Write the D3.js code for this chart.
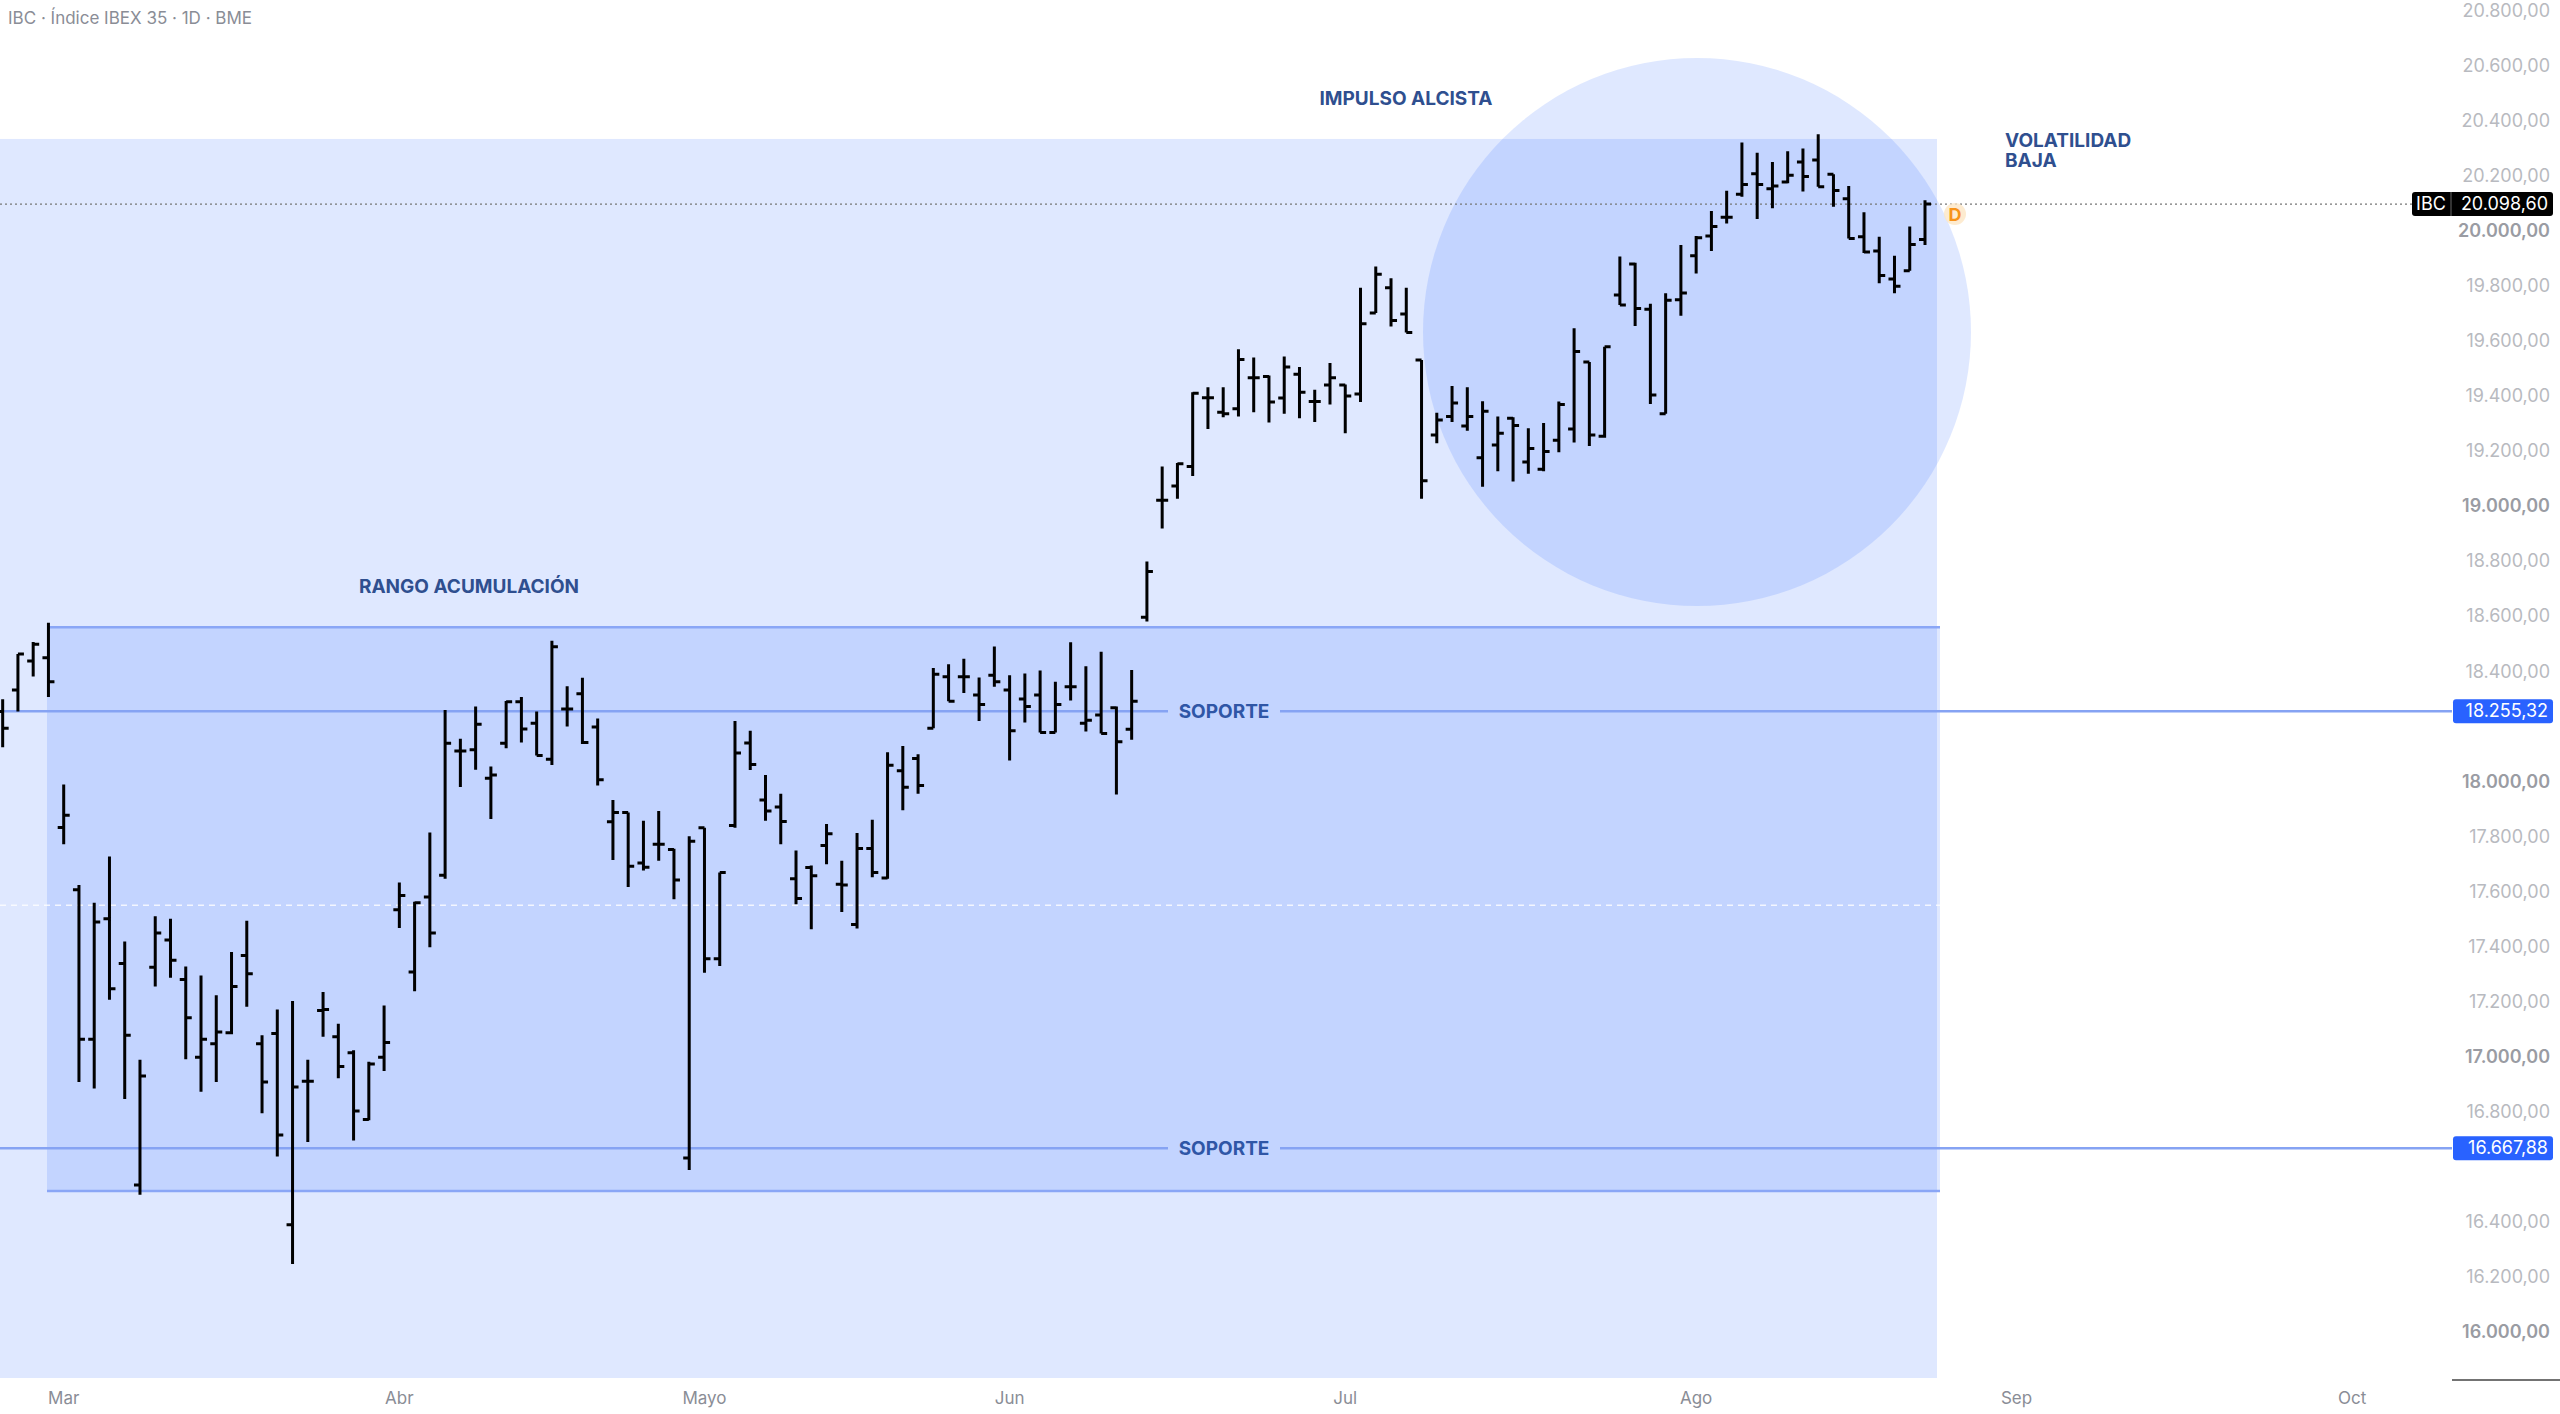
<!DOCTYPE html>
<html><head><meta charset="utf-8">
<script src="https://cdn.jsdelivr.net/npm/d3@7"></script>
<style>body{margin:0;background:#fff}svg{display:block;font-family:"Inter","Roboto",sans-serif}</style>
</head><body>
<script>
const W = 2560, H = 1414;

// daily bars [open, high, low, close], bar index -4 .. 122
const ohlc = [
  [18255,18299,18125,18194],[18333,18464,18255,18464],[18438,18507,18382,18499],[18450,18577,18307,18363],
  [17833,17989,17772,17878],[17607,17624,16908,17064],[17064,17560,16885,17490],[17502,17728,17207,17247],
  [17339,17419,16847,17078],[16534,16989,16499,16930],[17325,17511,17255,17450],[17424,17502,17287,17351],
  [17281,17328,16991,17142],[16998,17295,16873,17064],[17047,17224,16908,17090],[17087,17381,17082,17255],
  [17368,17494,17182,17302],[17047,17078,16795,16908],[17085,17172,16638,16716],[16390,17203,16247,16890],
  [16911,16989,16690,16911],[17168,17235,17073,17172],[17073,17120,16922,16965],[17015,17024,16696,16803],
  [16772,16982,16769,16974],[16998,17186,16948,17052],[17534,17633,17468,17586],[17308,17563,17238,17560],
  [17581,17815,17398,17450],[17660,18260,17647,18139],[18111,18156,17980,18111],[18116,18273,18043,18208],
  [18012,18055,17864,18024],[18139,18293,18121,18290],[18290,18307,18142,18191],[18212,18255,18095,18095],
  [18081,18512,18060,18490],[18264,18346,18200,18264],[18319,18377,18137,18142],[18198,18229,17986,18007],
  [17854,17933,17715,17888],[17888,17888,17617,17692],[17704,17858,17677,17689],[17772,17893,17712,17772],
  [17753,17756,17572,17642],[16632,17801,16589,17783],[17832,17832,17305,17356],[17356,17670,17330,17670],
  [17840,18220,17832,18104],[18140,18185,18042,18062],[17933,18024,17858,17893],[17908,17956,17772,17855],
  [17647,17750,17554,17575],[17688,17695,17463,17658],[17768,17846,17700,17810],[17627,17712,17526,17624],
  [17481,17813,17466,17757],[17757,17861,17652,17670],[17650,18107,17647,18059],[18039,18129,17896,17979],
  [18084,18099,17956,17986],[18194,18413,18194,18390],[18381,18426,18292,18292],[18381,18446,18322,18381],
  [18315,18378,18220,18280],[18386,18491,18345,18363],[18333,18386,18077,18185],[18300,18393,18215,18273],
  [18315,18404,18178,18178],[18178,18363,18178,18280],[18345,18506,18295,18345],[18212,18419,18182,18223],
  [18242,18472,18175,18175],[18268,18273,17953,18145],[18190,18405,18152,18292],[18597,18800,18582,18763],
  [19022,19145,18920,19022],[19074,19158,19028,19155],[19145,19415,19110,19411],[19395,19433,19281,19395],
  [19342,19433,19324,19337],[19355,19571,19327,19534],[19467,19541,19342,19467],[19472,19476,19305,19379],
  [19394,19545,19337,19506],[19480,19506,19320,19415],[19381,19424,19307,19381],[19441,19521,19370,19467],
  [19441,19443,19266,19401],[19408,19794,19379,19664],[19703,19872,19703,19843],[19794,19829,19654,19675],
  [19699,19794,19632,19632],[19532,19532,19028,19093],[19259,19340,19229,19314],[19327,19437,19307,19376],
  [19292,19433,19275,19327],[19177,19382,19071,19346],[19223,19327,19128,19266],[19320,19324,19090,19294],
  [19161,19284,19119,19210],[19135,19303,19128,19199],[19240,19381,19197,19370],[19281,19647,19232,19563],
  [19525,19525,19219,19259],[19255,19580,19249,19580],[19768,19908,19732,19732],[19881,19885,19655,19719],
  [19716,19736,19372,19405],[19337,19774,19337,19749],[19751,19950,19693,19775],[19911,19982,19846,19976],
  [19982,20073,19928,20017],[20051,20147,20028,20051],[20134,20322,20125,20170],[20209,20285,20044,20170],
  [20154,20251,20083,20164],[20179,20290,20174,20203],[20251,20300,20144,20199],[20259,20352,20161,20161],
  [20207,20207,20089,20148],[20118,20164,19973,19973],[19980,20069,19921,19924],[19928,19980,19811,19839],
  [19826,19911,19774,19800],[19856,20017,19856,19952],[19970,20112,19950,20098.6]
];
const firstIndex = -4;

const monthLabels = ["Mar","Abr","Mayo","Jun","Jul","Ago","Sep","Oct"];
const monthIdx    = [0, 22, 42, 62, 84, 107, 128, 150];
const yTicks = d3.range(16000, 20801, 200);
const boldTicks = [16000, 17000, 18000, 19000, 20000];

const rangeTop = 18561, rangeBottom = 16512;
const supports = [18255.32, 16667.88];
const impulseTop = 20335;
const lastPrice = 20098.6;
const midLine = 17551;

const bars = ohlc.map((r, k) => ({i: k + firstIndex, o: r[0], h: r[1], l: r[2], c: r[3]}));

const x = d3.scaleLinear().domain([0, 122]).range([63.7, 1925]);
const y = d3.scaleLinear().domain([16000, 20800]).range([1332, 11]);
const fmt = v => d3.format(",.2f")(v).replace(/,/g, "#").replace(".", ",").replace(/#/g, ".");

const svg = d3.select("body").append("svg").attr("width", W).attr("height", H);
const fill = "rgba(41,98,255,0.15)";
const plotR = 2452;

// zones
svg.append("rect").attr("x", 0).attr("y", y(impulseTop)).attr("width", 1937).attr("height", 1378 - y(impulseTop)).attr("fill", fill);
svg.append("rect").attr("x", 47).attr("y", y(rangeTop)).attr("width", 1893).attr("height", y(rangeBottom) - y(rangeTop)).attr("fill", fill);
[rangeTop, rangeBottom].forEach(v => svg.append("line").attr("x1", 47).attr("x2", 1940).attr("y1", y(v)).attr("y2", y(v)).attr("stroke", "#8aa6f6").attr("stroke-width", 2.5));
svg.append("circle").attr("cx", 1697).attr("cy", 332).attr("r", 274).attr("fill", fill);

// mid dashed line
svg.append("line").attr("x1", 0).attr("x2", plotR).attr("y1", y(midLine)).attr("y2", y(midLine)).attr("stroke", "#fff").attr("stroke-width", 1.5).attr("stroke-dasharray", "6,5").attr("opacity", 0.8);

// support lines with labels
supports.forEach(v => {
  const yy = y(v);
  svg.append("line").attr("x1", 0).attr("x2", 1168).attr("y1", yy).attr("y2", yy).attr("stroke", "#86a3f3").attr("stroke-width", 2.5);
  svg.append("line").attr("x1", 1280).attr("x2", plotR).attr("y1", yy).attr("y2", yy).attr("stroke", "#86a3f3").attr("stroke-width", 2.5);
  svg.append("text").attr("x", 1224).attr("y", yy + 7).attr("text-anchor", "middle").attr("font-size", 19).attr("font-weight", 700).attr("fill", "#2f56a6").text("SOPORTE");
});

// last price dotted line
svg.append("line").attr("x1", 0).attr("x2", 2414).attr("y1", y(lastPrice)).attr("y2", y(lastPrice)).attr("stroke", "#777").attr("stroke-width", 1.2).attr("stroke-dasharray", "2,3");

// bars
const g = svg.append("g").attr("stroke", "#000").attr("stroke-width", 3);
g.selectAll(".b").data(bars).enter().append("path")
  .attr("d", d => {
    const cx = x(d.i);
    return `M${cx},${y(d.h)}V${y(d.l)}M${cx - 6},${y(d.o)}H${cx}M${cx},${y(d.c)}H${cx + 6}`;
  }).attr("fill", "none");

// annotations
const ann = (t, xx, yy, anchor) => svg.append("text").attr("x", xx).attr("y", yy).attr("text-anchor", anchor).attr("font-size", 19).attr("font-weight", 700).attr("fill", "#2f4f8f").text(t);
ann("RANGO ACUMULACIÓN", 469, 593, "middle");
ann("IMPULSO ALCISTA", 1406, 105, "middle");
ann("VOLATILIDAD", 2005, 147, "start");
ann("BAJA", 2005, 167, "start");

// D marker
svg.append("circle").attr("cx", 1955).attr("cy", 214).attr("r", 11).attr("fill", "#fde6c4").attr("opacity", 0.8);
svg.append("text").attr("x", 1955).attr("y", 221).attr("text-anchor", "middle").attr("font-size", 18).attr("font-weight", 700).attr("fill", "#f7931a").text("D");

// title
svg.append("text").attr("x", 8).attr("y", 24).attr("font-size", 17).attr("fill", "#8a8d96").text("IBC · Índice IBEX 35 · 1D · BME");

// y axis labels (hide the ones covered by price boxes)
const boxes = [...supports, lastPrice];
svg.selectAll(".yt").data(yTicks.filter(t => boxes.every(b => Math.abs(y(b) - y(t)) > 20))).enter().append("text")
  .attr("x", 2550).attr("y", d => y(d) + 6).attr("text-anchor", "end").attr("font-size", 18)
  .attr("font-weight", d => boldTicks.includes(d) ? 600 : 400)
  .attr("fill", d => boldTicks.includes(d) ? "#9a9ca3" : "#b8bac0").text(fmt);

// x axis labels
svg.selectAll(".xt").data(monthLabels).enter().append("text")
  .attr("x", (d, k) => x(monthIdx[k])).attr("y", 1404).attr("text-anchor", "middle").attr("font-size", 17)
  .attr("fill", "#8a8d96").text(d => d);
svg.append("line").attr("x1", 2452).attr("x2", 2560).attr("y1", 1380).attr("y2", 1380).attr("stroke", "#444").attr("stroke-width", 1.5);

// price boxes
supports.forEach(v => {
  const yy = y(v);
  svg.append("rect").attr("x", 2453).attr("y", yy - 12).attr("width", 100).attr("height", 24).attr("rx", 3).attr("fill", "#2962ff");
  svg.append("text").attr("x", 2548).attr("y", yy + 6).attr("text-anchor", "end").attr("font-size", 18).attr("fill", "#fff").text(fmt(v));
});
const ly = y(lastPrice);
svg.append("rect").attr("x", 2412).attr("y", ly - 12).attr("width", 141).attr("height", 24).attr("rx", 3).attr("fill", "#000");
svg.append("line").attr("x1", 2451).attr("x2", 2451).attr("y1", ly - 12).attr("y2", ly + 12).attr("stroke", "#666");
svg.append("text").attr("x", 2431).attr("y", ly + 6).attr("text-anchor", "middle").attr("font-size", 18).attr("fill", "#fff").text("IBC");
svg.append("text").attr("x", 2548).attr("y", ly + 6).attr("text-anchor", "end").attr("font-size", 18).attr("fill", "#fff").text(fmt(lastPrice));
</script>
</body></html>
